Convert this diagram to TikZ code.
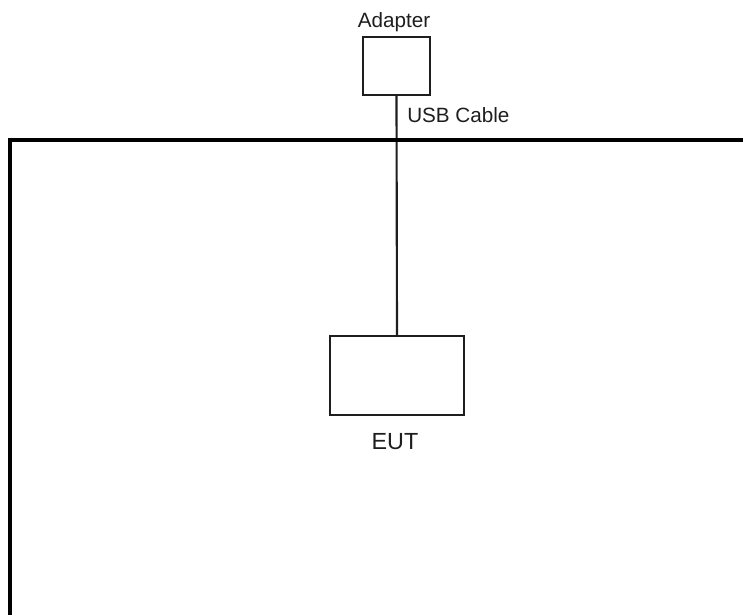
\documentclass[tikz,border=0pt]{standalone}
\usepackage{fontspec}
\setmainfont{Liberation Sans}
\usetikzlibrary{positioning}
\definecolor{linegray}{RGB}{30,30,30}

\begin{document}
\begin{tikzpicture}[
    x=0.75pt, y=-0.75pt,
    box/.style={
        rectangle,
        draw=linegray,
        line width=1.6pt,
        inner sep=0pt
    },
    cable/.style={draw=linegray, line width=1.6pt},
    wall/.style={draw=black, line width=2.8pt},
    lbl/.style={font=\fontsize{15.5}{18}\selectfont, inner sep=0pt, text=linegray},
    biglbl/.style={font=\fontsize{17.5}{20}\selectfont, inner sep=0pt, text=linegray}
]
\useasboundingbox (0,0) rectangle (743,615);

% ground plane corner
\coordinate (corner) at (10,140);
\coordinate (rightend) at (743,140);
\coordinate (bottomend) at (10,615);

\node[box, minimum width=67*0.75pt, minimum height=58*0.75pt] (adapter) at (396.5,66) {};
\node[box, minimum width=134*0.75pt, minimum height=79*0.75pt] (eut) at (397,375.5) {};

\node[lbl, anchor=base] (adaptertext) at (394,27) {Adapter};
\node[lbl, anchor=base west] (cabletext) at (407,122.5) {USB Cable};
\node[biglbl, anchor=base] (euttext) at (395,449) {EUT};

\draw[cable] (adapter.south) -- (eut.north);
\draw[wall] (rightend) -- (corner) -- (bottomend);

\end{tikzpicture}
\end{document}
